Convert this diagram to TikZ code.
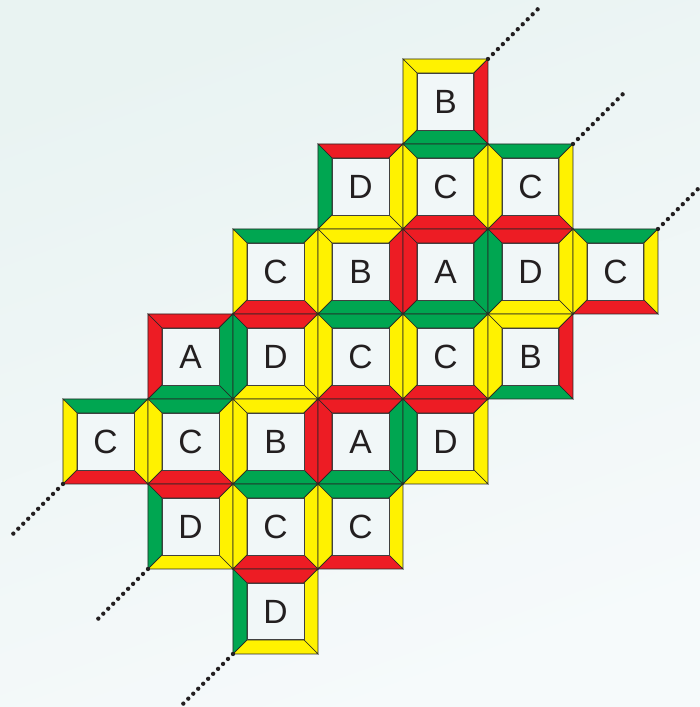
\documentclass[tikz,border=0pt]{standalone}
\usepackage{xcolor}
\usepackage{fontspec}
\setmainfont{Liberation Sans}
\usepackage{tikz}
\usetikzlibrary{positioning,calc}

\definecolor{tileyellow}{HTML}{FFF200}
\definecolor{tilered}{HTML}{ED1C24}
\definecolor{tilegreen}{HTML}{00A651}
\definecolor{tileinner}{HTML}{F1F7F8}
\definecolor{bgtop}{HTML}{E9F3F2}
\definecolor{bgbot}{HTML}{F6FAFB}
\definecolor{ink}{HTML}{231F20}
% border colours per letter: top, right, bottom, left
\colorlet{Atop}{tilered}\colorlet{Aright}{tilegreen}\colorlet{Abot}{tilegreen}\colorlet{Aleft}{tilered}
\colorlet{Btop}{tileyellow}\colorlet{Bright}{tilered}\colorlet{Bbot}{tilegreen}\colorlet{Bleft}{tileyellow}
\colorlet{Ctop}{tilegreen}\colorlet{Cright}{tileyellow}\colorlet{Cbot}{tilered}\colorlet{Cleft}{tileyellow}
\colorlet{Dtop}{tilered}\colorlet{Dright}{tileyellow}\colorlet{Dbot}{tileyellow}\colorlet{Dleft}{tilegreen}

\begin{document}
\begin{tikzpicture}[x=2cm,y=2cm,
  piece/.style={draw=black!85,line width=0.45pt},
  letterbox/.style={draw=black!75,line width=0.6pt,fill=tileinner,minimum size=1.34cm,
    inner sep=0pt,text=ink,font=\fontsize{22.5}{25}\selectfont},
  dotline/.style={draw=ink,line width=2.9pt,line cap=round,dash pattern=on 0pt off 4.7pt}]
\useasboundingbox (-0.741,-7.624) rectangle (7.494,0.694);
\shade[top color=bgtop,bottom color=bgbot,shading angle=20] (-0.741,-7.624) rectangle (7.494,0.694);
\def\w{0.165}
\foreach \c/\r/\l in {4/0/B,
    3/1/D,4/1/C,5/1/C,
    2/2/C,3/2/B,4/2/A,5/2/D,6/2/C,
    1/3/A,2/3/D,3/3/C,4/3/C,5/3/B,
    0/4/C,1/4/C,2/4/B,3/4/A,4/4/D,
    1/5/D,2/5/C,3/5/C,
    2/6/D}{
  \begin{scope}[shift={({\c},{-\r-1})}]
    \fill[\l top,piece] (0,1) -- (1,1) -- (1-\w,1-\w) -- (\w,1-\w) -- cycle;
    \fill[\l right,piece] (1,1) -- (1,0) -- (1-\w,\w) -- (1-\w,1-\w) -- cycle;
    \fill[\l bot,piece] (0,0) -- (1,0) -- (1-\w,\w) -- (\w,\w) -- cycle;
    \fill[\l left,piece] (0,0) -- (0,1) -- (\w,1-\w) -- (\w,\w) -- cycle;
    \node[letterbox] (tile\c\r) at (0.5,0.5) {\l};
  \end{scope}
}
% dotted diagonals beyond the corners
\foreach \i in {0,1,2}{
  \coordinate (ne\i) at ({5+\i},{-\i});
  \coordinate (sw\i) at ({\i},{-5-\i});
  \draw[dotline] (ne\i) -- ++(0.6,0.6);
  \draw[dotline] (sw\i) -- ++(-0.6,-0.6);
}
\end{tikzpicture}
\end{document}
